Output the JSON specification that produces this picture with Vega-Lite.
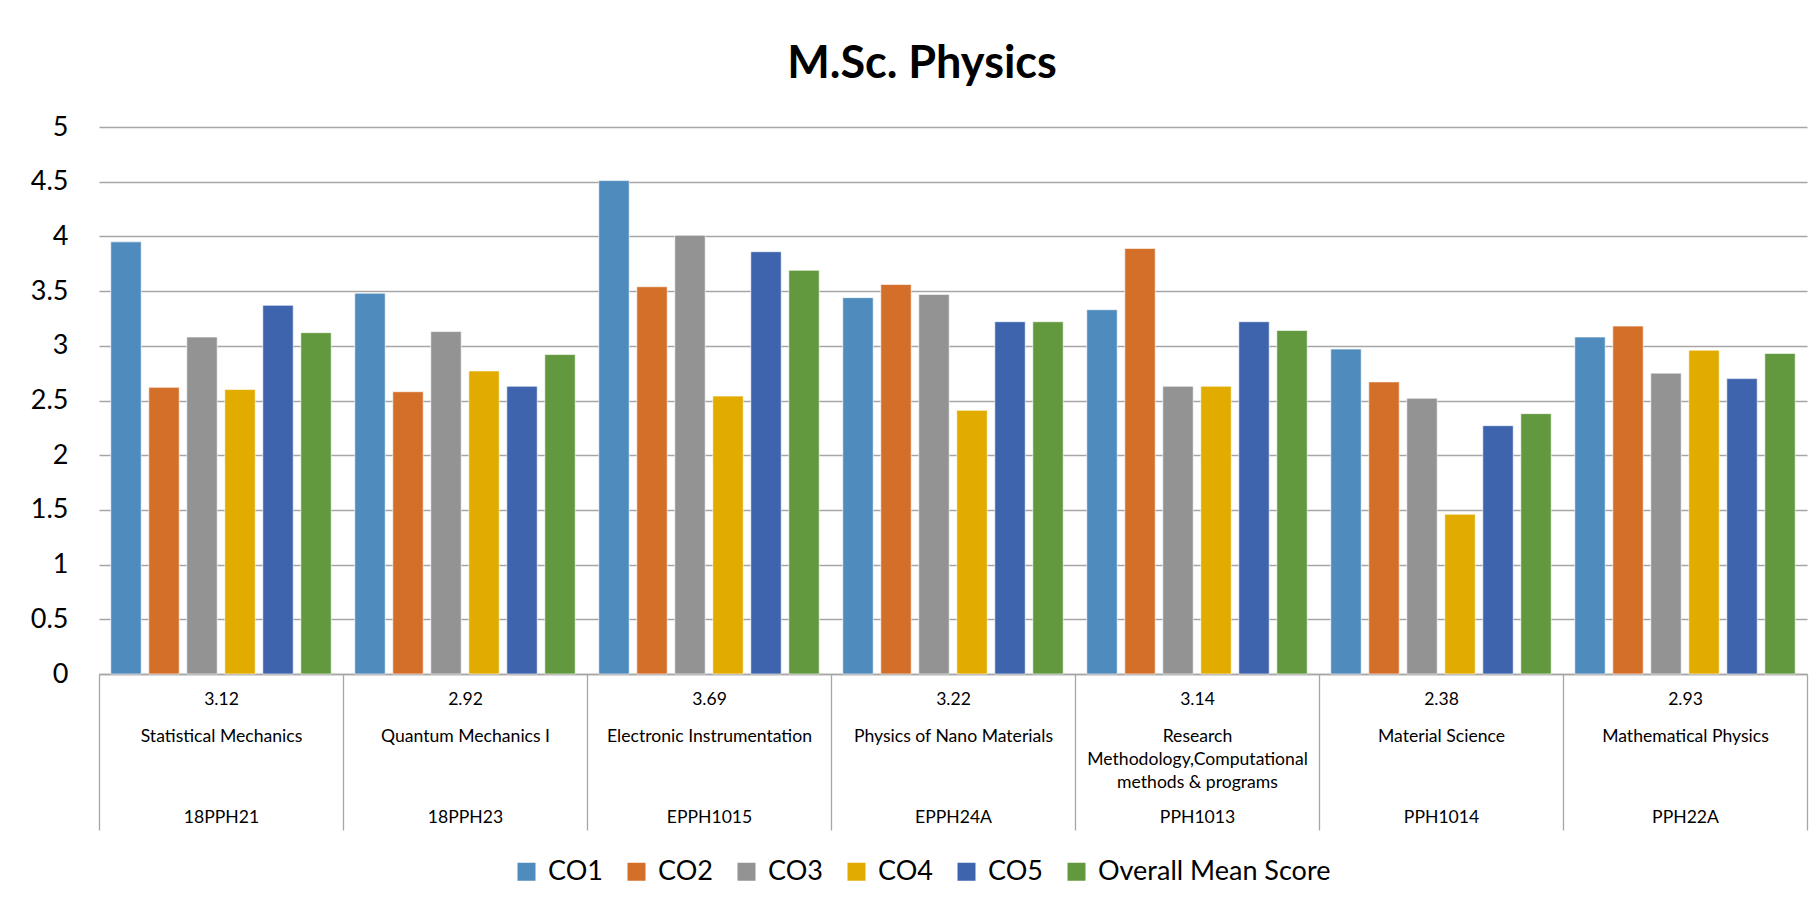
{
  "$schema": "https://vega.github.io/schema/vega-lite/v6.json",
  "width": 1708,
  "height": 547,
  "autosize": {"type": "none"},
  "padding": {"left": 99, "top": 127, "right": 11, "bottom": 232},
  "background": "white",
  "config": {"font": "Lato", "view": {"stroke": null}},
  "title": {"text": "M.Sc. Physics", "font": "Lato", "fontSize": 45, "fontWeight": "bold", "color": "black", "anchor": "middle", "dx": -31, "offset": 26},
  "data": {"values": [
    {"code": "18PPH21", "name": "Statistical Mechanics", "mean": "3.12", "series": "CO1", "value": 3.95},
    {"code": "18PPH21", "name": "Statistical Mechanics", "mean": "3.12", "series": "CO2", "value": 2.62},
    {"code": "18PPH21", "name": "Statistical Mechanics", "mean": "3.12", "series": "CO3", "value": 3.08},
    {"code": "18PPH21", "name": "Statistical Mechanics", "mean": "3.12", "series": "CO4", "value": 2.60},
    {"code": "18PPH21", "name": "Statistical Mechanics", "mean": "3.12", "series": "CO5", "value": 3.37},
    {"code": "18PPH21", "name": "Statistical Mechanics", "mean": "3.12", "series": "Overall Mean Score", "value": 3.12},
    {"code": "18PPH23", "name": "Quantum Mechanics I", "mean": "2.92", "series": "CO1", "value": 3.48},
    {"code": "18PPH23", "name": "Quantum Mechanics I", "mean": "2.92", "series": "CO2", "value": 2.58},
    {"code": "18PPH23", "name": "Quantum Mechanics I", "mean": "2.92", "series": "CO3", "value": 3.13},
    {"code": "18PPH23", "name": "Quantum Mechanics I", "mean": "2.92", "series": "CO4", "value": 2.77},
    {"code": "18PPH23", "name": "Quantum Mechanics I", "mean": "2.92", "series": "CO5", "value": 2.63},
    {"code": "18PPH23", "name": "Quantum Mechanics I", "mean": "2.92", "series": "Overall Mean Score", "value": 2.92},
    {"code": "EPPH1015", "name": "Electronic Instrumentation", "mean": "3.69", "series": "CO1", "value": 4.51},
    {"code": "EPPH1015", "name": "Electronic Instrumentation", "mean": "3.69", "series": "CO2", "value": 3.54},
    {"code": "EPPH1015", "name": "Electronic Instrumentation", "mean": "3.69", "series": "CO3", "value": 4.01},
    {"code": "EPPH1015", "name": "Electronic Instrumentation", "mean": "3.69", "series": "CO4", "value": 2.54},
    {"code": "EPPH1015", "name": "Electronic Instrumentation", "mean": "3.69", "series": "CO5", "value": 3.86},
    {"code": "EPPH1015", "name": "Electronic Instrumentation", "mean": "3.69", "series": "Overall Mean Score", "value": 3.69},
    {"code": "EPPH24A", "name": "Physics of Nano Materials", "mean": "3.22", "series": "CO1", "value": 3.44},
    {"code": "EPPH24A", "name": "Physics of Nano Materials", "mean": "3.22", "series": "CO2", "value": 3.56},
    {"code": "EPPH24A", "name": "Physics of Nano Materials", "mean": "3.22", "series": "CO3", "value": 3.47},
    {"code": "EPPH24A", "name": "Physics of Nano Materials", "mean": "3.22", "series": "CO4", "value": 2.41},
    {"code": "EPPH24A", "name": "Physics of Nano Materials", "mean": "3.22", "series": "CO5", "value": 3.22},
    {"code": "EPPH24A", "name": "Physics of Nano Materials", "mean": "3.22", "series": "Overall Mean Score", "value": 3.22},
    {"code": "PPH1013", "name": "Research|Methodology,Computational|methods & programs", "mean": "3.14", "series": "CO1", "value": 3.33},
    {"code": "PPH1013", "name": "Research|Methodology,Computational|methods & programs", "mean": "3.14", "series": "CO2", "value": 3.89},
    {"code": "PPH1013", "name": "Research|Methodology,Computational|methods & programs", "mean": "3.14", "series": "CO3", "value": 2.63},
    {"code": "PPH1013", "name": "Research|Methodology,Computational|methods & programs", "mean": "3.14", "series": "CO4", "value": 2.63},
    {"code": "PPH1013", "name": "Research|Methodology,Computational|methods & programs", "mean": "3.14", "series": "CO5", "value": 3.22},
    {"code": "PPH1013", "name": "Research|Methodology,Computational|methods & programs", "mean": "3.14", "series": "Overall Mean Score", "value": 3.14},
    {"code": "PPH1014", "name": "Material Science", "mean": "2.38", "series": "CO1", "value": 2.97},
    {"code": "PPH1014", "name": "Material Science", "mean": "2.38", "series": "CO2", "value": 2.67},
    {"code": "PPH1014", "name": "Material Science", "mean": "2.38", "series": "CO3", "value": 2.52},
    {"code": "PPH1014", "name": "Material Science", "mean": "2.38", "series": "CO4", "value": 1.46},
    {"code": "PPH1014", "name": "Material Science", "mean": "2.38", "series": "CO5", "value": 2.27},
    {"code": "PPH1014", "name": "Material Science", "mean": "2.38", "series": "Overall Mean Score", "value": 2.38},
    {"code": "PPH22A", "name": "Mathematical Physics", "mean": "2.93", "series": "CO1", "value": 3.08},
    {"code": "PPH22A", "name": "Mathematical Physics", "mean": "2.93", "series": "CO2", "value": 3.18},
    {"code": "PPH22A", "name": "Mathematical Physics", "mean": "2.93", "series": "CO3", "value": 2.75},
    {"code": "PPH22A", "name": "Mathematical Physics", "mean": "2.93", "series": "CO4", "value": 2.96},
    {"code": "PPH22A", "name": "Mathematical Physics", "mean": "2.93", "series": "CO5", "value": 2.70},
    {"code": "PPH22A", "name": "Mathematical Physics", "mean": "2.93", "series": "Overall Mean Score", "value": 2.93}
  ]},
  "layer": [
    {
      "mark": {"type": "bar", "stroke": "white", "strokeWidth": 1, "strokeOpacity": 0.6},
      "encoding": {
        "x": {"field": "code", "type": "nominal", "sort": null,
          "scale": {"paddingInner": 0, "paddingOuter": 0},
          "axis": {"orient": "bottom", "title": null, "labels": false, "ticks": true, "tickSize": 156, "tickColor": "#a6a6a6", "tickWidth": 1.3, "bandPosition": 1, "tickExtra": true, "domain": true, "domainColor": "#a6a6a6", "domainWidth": 1.3, "grid": false}},
        "xOffset": {"field": "series", "type": "nominal", "sort": ["CO1", "CO2", "CO3", "CO4", "CO5", "Overall Mean Score"],
          "scale": {"paddingInner": 0.2, "paddingOuter": 0.31}},
        "y": {"field": "value", "type": "quantitative",
          "scale": {"domain": [0, 5], "nice": false},
          "axis": {"title": null, "values": [0, 0.5, 1, 1.5, 2, 2.5, 3, 3.5, 4, 4.5, 5], "format": "~g", "domain": false, "ticks": false, "labelFontSize": 27, "labelColor": "black", "labelPadding": 31, "gridColor": "#a6a6a6", "gridWidth": 1.3, "labelFont": "Lato"}},
        "color": {"field": "series", "type": "nominal",
          "scale": {"domain": ["CO1", "CO2", "CO3", "CO4", "CO5", "Overall Mean Score"], "range": ["#4f8bbd", "#d46f2a", "#939393", "#e1ab00", "#3d64ac", "#63993e"]},
          "legend": {"orient": "none", "legendX": 414, "legendY": 731, "direction": "horizontal", "title": null, "symbolType": "square", "symbolSize": 324, "symbolStrokeWidth": 0, "symbolOpacity": 1, "labelFontSize": 27, "labelFont": "Lato", "labelColor": "black", "labelOffset": 8, "labelLimit": 0, "columnPadding": 20}}
      }
    },
    {
      "mark": {"type": "point", "opacity": 0},
      "encoding": {
        "x": {"field": "mean", "type": "nominal", "sort": null,
          "scale": {"paddingInner": 0, "paddingOuter": 0},
          "axis": {"orient": "bottom", "title": null, "ticks": false, "domain": false, "grid": false, "labelAngle": 0, "labelFontSize": 17.6, "labelFont": "Lato", "labelPadding": 16, "labelColor": "black", "labelBaseline": "top", "labelOverlap": false}}
      }
    },
    {
      "mark": {"type": "point", "opacity": 0},
      "encoding": {
        "x": {"field": "name", "type": "nominal", "sort": null,
          "scale": {"paddingInner": 0, "paddingOuter": 0},
          "axis": {"orient": "bottom", "title": null, "ticks": false, "domain": false, "grid": false, "labelAngle": 0, "labelFontSize": 17.6, "labelFont": "Lato", "labelPadding": 53, "labelColor": "black", "labelBaseline": "top", "labelOverlap": false, "labelLimit": 400, "labelLineHeight": 23, "labelExpr": "split(datum.label, '|')"}}
      }
    },
    {
      "mark": {"type": "point", "opacity": 0},
      "encoding": {
        "x": {"field": "code", "type": "nominal", "sort": null,
          "scale": {"paddingInner": 0, "paddingOuter": 0},
          "axis": {"orient": "bottom", "title": null, "ticks": false, "domain": false, "grid": false, "labelAngle": 0, "labelFontSize": 17.6, "labelFont": "Lato", "labelPadding": 134, "labelColor": "black", "labelBaseline": "top", "labelOverlap": false}}
      }
    }
  ],
  "resolve": {"scale": {"x": "independent"}, "axis": {"x": "independent"}}
}
